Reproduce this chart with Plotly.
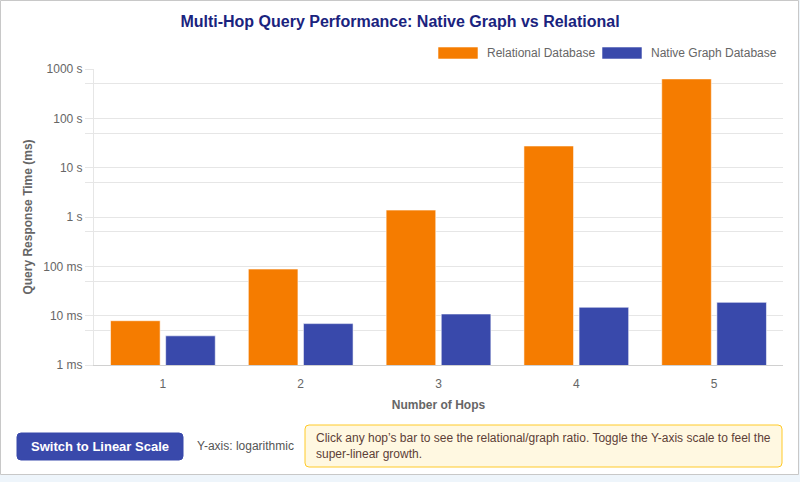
import plotly.graph_objects as go

# ---- data ----
hops = ["1", "2", "3", "4", "5"]
relational_ms = [7.9, 88, 1380, 27500, 630000]
graph_ms = [3.9, 6.9, 10.8, 14.8, 18.6]
series_names = ["Relational Database", "Native Graph Database"]
series_colors = ["#F57C00", "#3949AB"]
tick_values = [1, 5, 10, 50, 100, 500, 1000, 5000, 10000, 50000, 100000, 500000, 1000000]
tick_labels = ["1 ms", "", "10 ms", "", "100 ms", "", "1 s", "", "10 s", "", "100 s", "", "1000 s"]

W, H = 800, 482
L, R, T, B = 94, 783, 69, 365
FONT = "Liberation Sans, Arial, Helvetica, sans-serif"


def px(x):
    return (x - L) / (R - L)


def py(y):
    return (B - y) / (B - T)


def rrect(x0, y0, x1, y1, r):
    # rounded rectangle path in paper coords from pixel coords
    pts = [
        f"M {px(x0 + r)},{py(y0)}",
        f"L {px(x1 - r)},{py(y0)}",
        f"Q {px(x1)},{py(y0)} {px(x1)},{py(y0 + r)}",
        f"L {px(x1)},{py(y1 - r)}",
        f"Q {px(x1)},{py(y1)} {px(x1 - r)},{py(y1)}",
        f"L {px(x0 + r)},{py(y1)}",
        f"Q {px(x0)},{py(y1)} {px(x0)},{py(y1 - r)}",
        f"L {px(x0)},{py(y0 + r)}",
        f"Q {px(x0)},{py(y0)} {px(x0 + r)},{py(y0)}",
        "Z",
    ]
    return " ".join(pts)


fig = go.Figure()
for name, vals, col in zip(series_names, [relational_ms, graph_ms], series_colors):
    fig.add_trace(go.Bar(
        x=hops, y=vals, name=name,
        marker=dict(color=col, line=dict(color="rgba(255,255,255,0.55)", width=1)),
        hovertemplate="%{y} ms<extra>" + name + "</extra>",
    ))

shapes = []
# card background
shapes.append(dict(type="rect", xref="paper", yref="paper",
                   x0=px(0.5), x1=px(798.5), y0=py(0.5), y1=py(474.5),
                   fillcolor="white", line=dict(color="#c8c8c8", width=1), layer="below"))
# legend boxes
legend_x = [438, 602]
for lx, col in zip(legend_x, series_colors):
    shapes.append(dict(type="rect", xref="paper", yref="paper",
                       x0=px(lx), x1=px(lx + 40), y0=py(47), y1=py(59),
                       fillcolor=col, line=dict(color="rgba(255,255,255,0.55)", width=1)))
# button
shapes.append(dict(type="path", xref="paper", yref="paper", path=rrect(17, 433, 183, 460, 4),
                   fillcolor="#3949AB", line=dict(color="#3949AB", width=1)))
# info box
shapes.append(dict(type="path", xref="paper", yref="paper", path=rrect(305, 425, 782, 467, 4),
                   fillcolor="#FFF8E1", line=dict(color="#FFCA28", width=1)))

annotations = []
for lx, name in zip(legend_x, series_names):
    annotations.append(dict(x=px(lx + 47), y=py(53), xref="paper", yref="paper",
                            text=name, showarrow=False, xanchor="left", yanchor="middle",
                            font=dict(family=FONT, size=12, color="#666")))
annotations.append(dict(x=px(100), y=py(446.5), xref="paper", yref="paper",
                        text="<b>Switch to Linear Scale</b>", showarrow=False,
                        xanchor="center", yanchor="middle",
                        font=dict(family=FONT, size=13, color="white")))
annotations.append(dict(x=px(195), y=py(446.5), xref="paper", yref="paper",
                        text="Y-axis: logarithmic", showarrow=False,
                        xanchor="left", yanchor="middle",
                        font=dict(family=FONT, size=12, color="#555")))
annotations.append(dict(x=px(314), y=py(446), xref="paper", yref="paper",
                        text="Click any hop’s bar to see the relational/graph ratio. Toggle the Y-axis scale to feel the<br>super-linear growth.",
                        showarrow=False, xanchor="left", yanchor="middle", align="left",
                        font=dict(family=FONT, size=12, color="#5D4037")))

fig.update_layout(
    width=W, height=H,
    margin=dict(l=L, r=W - R, t=T, b=H - B, pad=0),
    paper_bgcolor="#EEF5FB",
    plot_bgcolor="rgba(0,0,0,0)",
    barmode="group", bargap=0.2, bargroupgap=0.1,
    showlegend=False,
    title=dict(text="<b>Multi-Hop Query Performance: Native Graph vs Relational</b>",
               x=0.5, xref="container", xanchor="center",
               y=1 - 21 / H, yref="container", yanchor="middle",
               font=dict(family=FONT, size=16, color="#1A237E")),
    font=dict(family=FONT, size=12, color="#666"),
    shapes=shapes,
    annotations=annotations,
    xaxis=dict(
        type="category", showgrid=False, showline=True, linecolor="#d0d0d0", linewidth=1,
        ticks="outside", ticklen=8, tickcolor="rgba(0,0,0,0)",
        tickfont=dict(family=FONT, size=12, color="#666"),
        title=dict(text="<b>Number of Hops</b>", standoff=10,
                   font=dict(family=FONT, size=12, color="#666")),
    ),
    yaxis=dict(
        type="log", range=[0, 6], tickmode="array",
        tickvals=tick_values, ticktext=tick_labels,
        showgrid=True, gridcolor="#e6e6e6", gridwidth=1,
        showline=True, linecolor="#e6e6e6", zeroline=False,
        ticks="outside", ticklen=8, tickcolor="#e6e6e6",
        tickfont=dict(family=FONT, size=12, color="#666"),
        title=dict(text="<b>Query Response Time (ms)</b>", standoff=8,
                   font=dict(family=FONT, size=12, color="#666")),
    ),
)

fig.write_html("out.html")
